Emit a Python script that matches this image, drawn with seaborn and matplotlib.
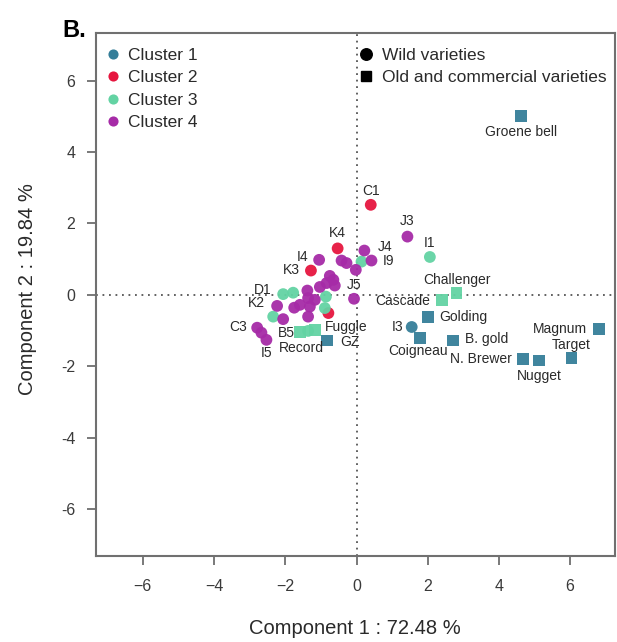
import numpy as np
import pandas as pd
import seaborn as sns
import matplotlib.pyplot as plt
from matplotlib.lines import Line2D

# PCA scores
names = ["Groene bell", "Magnum", "Target", "Nugget", "N. Brewer", "B. gold",
         "Coigneau", "Golding", "I3", "GZ",
         "C1", "K4", "K3", "",
         "I1", "Challenger", "Cascade", "", "D1", "", "", "", "",
         "Record", "Fuggle", "",
         "J3", "J4", "I9", "", "", "I4", "", "", "", "", "", "",
         "J5", "", "", "", "K2", "", "", "", "B5", "", "C3", "", "I5"]
comp1 = [4.62, 6.81, 6.04, 5.13, 4.67, 2.72, 1.78, 2.00, 1.55, -0.82,
         0.40, -0.53, -1.28, -0.79,
         2.06, 2.81, 2.39, 0.14, -2.06, -1.78, -0.86, -0.89, -2.34,
         -1.59, -1.17, -1.36,
         1.43, 0.22, 0.42, -0.42, -0.28, -1.05, -0.02, -0.75, -0.65, -0.84, -0.61, -1.03,
         -0.07, -1.38, -1.36, -1.17, -2.23, -1.75, -1.59, -1.31, -2.06, -1.36, -2.79, -2.67, -2.53]
comp2 = [5.01, -0.96, -1.77, -1.84, -1.80, -1.28, -1.21, -0.62, -0.90, -1.28,
         2.52, 1.30, 0.68, -0.51,
         1.06, 0.05, -0.14, 0.93, 0.02, 0.06, -0.05, -0.37, -0.61,
         -1.03, -0.98, -1.01,
         1.63, 1.24, 0.96, 0.96, 0.89, 0.98, 0.70, 0.53, 0.42, 0.33, 0.26, 0.22,
         -0.11, 0.12, -0.09, -0.14, -0.31, -0.36, -0.28, -0.33, -0.68, -0.61, -0.92, -1.06, -1.26]
cluster = (["Cluster 1"] * 10 + ["Cluster 2"] * 4 + ["Cluster 3"] * 12 + ["Cluster 4"] * 25)
kind = (["Old"] * 8 + ["Wild"] + ["Old"]
        + ["Wild"] * 4
        + ["Wild"] + ["Old"] * 2 + ["Wild"] * 6 + ["Old"] * 2 + ["Wild"]
        + ["Wild"] * 25)

df = pd.DataFrame({"name": names, "c1": comp1, "c2": comp2,
                   "cluster": cluster, "kind": kind})

palette = {"Cluster 1": "#357e99", "Cluster 2": "#e6163f",
           "Cluster 3": "#63d3a3", "Cluster 4": "#a62ba7"}

# label placement: (dx, dy) in points, horizontal alignment
label_pos = {
    "Groene bell": (0, -11.3, "center"), "Magnum": (-8.6, 0, "right"),
    "Target": (0, 9.4, "center"), "Nugget": (0, -10.8, "center"),
    "N. Brewer": (-8, 0, "right"), "B. gold": (8.6, 1, "left"),
    "Coigneau": (-1.4, -9.4, "center"), "Golding": (8.4, 0, "left"),
    "I3": (-6, 0, "right"), "Challenger": (0, 9.6, "center"),
    "Cascade": (-8.4, -0.7, "right"), "I1": (0, 10.3, "center"),
    "J3": (0, 11.3, "center"), "C1": (0, 10.3, "center"),
    "K4": (0, 11, "center"), "J4": (9.4, 2.6, "left"),
    "I9": (8.4, -0.3, "left"), "I4": (-8, 2, "right"),
    "K3": (-8, 0.5, "right"), "J5": (0, 10, "center"),
    "D1": (-8.4, 3, "right"), "K2": (-8.6, 2, "right"),
    "C3": (-7.6, 0.4, "right"), "I5": (0, -9.6, "center"),
    "B5": (2, -10.3, "center"), "Record": (1, -11.8, "center"),
    "Fuggle": (7.2, 2.4, "left"), "GZ": (9, -0.7, "left"),
}

sns.set_theme(style="white")
plt.rcParams["font.family"] = ["Liberation Sans", "DejaVu Sans"]

fig = plt.figure(figsize=(6.17, 6.42), dpi=100)
ax = fig.add_axes([0.1548, 0.134, 0.842, 0.8146])

ax.axhline(0, color="#555555", lw=1.3, ls=(0, (1, 2.6)), zorder=1)
ax.axvline(0, color="#555555", lw=1.3, ls=(0, (1, 2.6)), zorder=1)

sns.scatterplot(data=df, x="c1", y="c2", hue="cluster", style="kind",
                palette=palette, markers={"Wild": "o", "Old": "s"},
                s=72, linewidth=0, alpha=0.95, legend=False, ax=ax, zorder=3)

for _, r in df.iterrows():
    if r["name"] == "":
        continue
    dx, dy, ha = label_pos[r["name"]]
    ax.annotate(r["name"], (r["c1"], r["c2"]), xytext=(dx, dy),
                textcoords="offset points", ha=ha, va="center",
                fontsize=10, color="#2a2a2a", zorder=4)

ax.set_xlim(-7.33, 7.26)
ax.set_ylim(-7.31, 7.33)
ax.set_xticks([-6, -4, -2, 0, 2, 4, 6])
ax.set_yticks([-6, -4, -2, 0, 2, 4, 6])
ax.set_xticklabels(["\u22126", "\u22124", "\u22122", "0", "2", "4", "6"])
ax.set_yticklabels(["-6", "-4", "-2", "0", "2", "4", "6"])
ax.tick_params(axis="both", direction="out", length=6.5, width=1.1,
               color="#555555", labelcolor="#3a3a3a", labelsize=11.5,
               bottom=True, left=True)
ax.tick_params(axis="x", pad=10)
ax.tick_params(axis="y", pad=8)
for sp in ax.spines.values():
    sp.set_color("#707070")
    sp.set_linewidth(1.5)

ax.set_xlabel("Component 1 : 72.48 %", fontsize=14.5, color="#2a2a2a")
ax.set_ylabel("Component 2 : 19.84 %", fontsize=14.5, color="#2a2a2a")
ax.xaxis.set_label_coords(0.5, -0.138)
ax.xaxis.label.set_va("center")
ax.yaxis.set_label_coords(-0.13, 0.51)
ax.yaxis.label.set_va("center")

h1 = [Line2D([], [], marker="o", ls="", color=palette[c], markersize=7.3,
             markeredgewidth=0) for c in palette]
leg1 = ax.legend(h1, list(palette), loc="upper left",
                 bbox_to_anchor=(0.02, 0.972), frameon=False, fontsize=12.5,
                 handlelength=0.8, handletextpad=0.45, labelspacing=0.42,
                 borderaxespad=0, borderpad=0)
for t in leg1.get_texts():
    t.set_color("#2a2a2a")
ax.add_artist(leg1)

h2 = [Line2D([], [], marker="o", ls="", color="black", markersize=8.3),
      Line2D([], [], marker="s", ls="", color="black", markersize=7.6)]
leg2 = ax.legend(h2, ["Wild varieties", "Old and commercial varieties"],
                 loc="upper left", bbox_to_anchor=(0.508, 0.972), frameon=False,
                 fontsize=12.5, handlelength=0.8, handletextpad=0.5,
                 labelspacing=0.42, borderaxespad=0, borderpad=0)
for t in leg2.get_texts():
    t.set_color("#2a2a2a")

fig.text(0.101, 0.952, "B.", fontsize=17, fontweight="bold", va="center",
         ha="left", color="black")

fig.savefig("out.png", dpi=100)
